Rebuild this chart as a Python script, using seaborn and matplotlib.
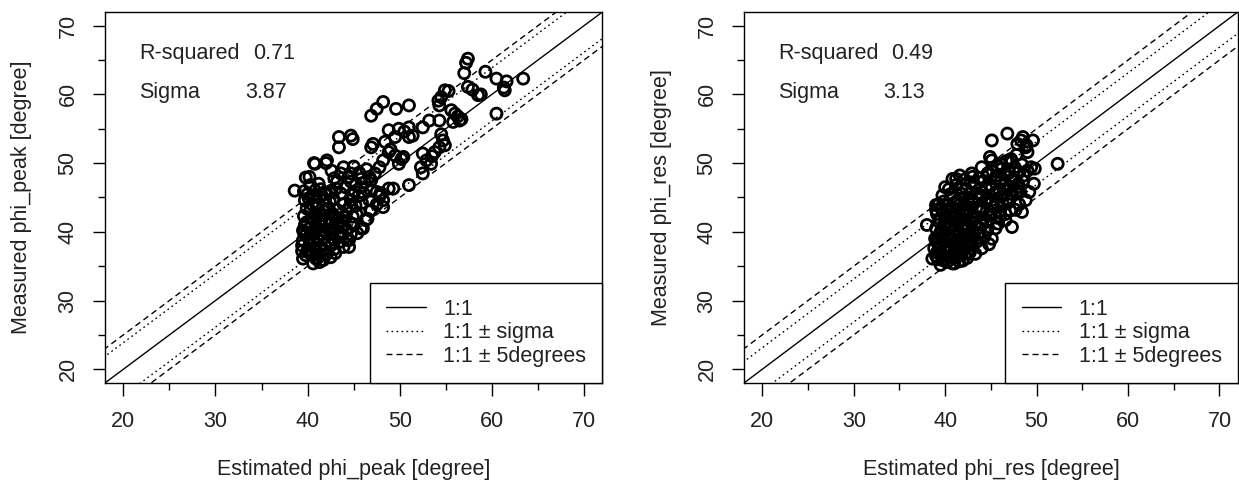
"""
plot.py
Measured vs estimated friction angle (peak and residual) with 1:1 reference lines.
"""

import matplotlib
matplotlib.use("Agg")
import matplotlib.pyplot as plt
import seaborn as sns
import numpy as np
import pandas as pd

# --- data ----------------------------------------------------------------
peak_est = [
    57.4, 57.2, 57.0, 59.3, 60.5, 61.6, 63.4, 57.4, 57.9, 58.5, 61.3, 61.4, 60.5, 58.8,
    54.9, 54.5, 54.2, 55.3, 54.3, 55.6, 56.0, 56.7, 55.8, 56.3, 56.5, 54.3, 53.2,
    52.5, 51.0, 49.9, 51.4, 51.0, 50.5,
    46.9, 47.5, 48.2, 49.6, 51.0,
    43.4, 43.4, 44.7, 44.9, 47.1, 46.9,
    48.4, 48.8, 49.5, 48.8, 49.5, 50.4, 49.9, 50.2, 49.0,
    52.5, 52.9, 53.4, 52.3, 52.5, 53.8, 54.3, 54.7, 54.9, 54.5, 53.5,
    51.0, 49.3,
    48.2, 47.8, 47.3, 46.7, 46.9, 45.8, 44.7, 44.7, 45.8, 46.9, 47.5, 46.2, 45.2,
    48.0, 48.2, 48.2, 46.7, 46.9, 46.5, 46.0, 47.5, 47.8,
    44.7, 44.3, 44.9, 44.7, 43.8, 44.7, 44.5, 44.5, 45.2, 45.5, 43.9,
    43.0, 43.4, 42.6, 42.8, 41.9, 42.1, 41.7, 40.6, 39.5, 43.9, 44.3,
    40.8, 42.1, 42.6, 43.6, 43.2, 40.7, 42.0, 39.8,
    38.6, 40.2, 40.8, 41.3, 39.7, 39.9, 40.8, 41.9, 42.6, 42.3, 41.3, 39.9, 39.5, 40.4,
    41.3, 39.5, 40.2, 41.3, 40.4, 41.3, 41.9, 42.6,
    45.8, 46.3, 46.8, 47.9, 48.8,
    40.0, 40.5, 41.0, 41.5, 40.2, 40.9, 41.6, 42.2, 42.9, 40.0, 40.7, 39.8, 41.1, 42.5,
    42.0, 41.2, 40.3, 42.8, 43.2, 43.6, 44.1, 42.9, 44.0, 43.5, 39.6, 40.5, 42.3, 41.8,
    40.9, 39.4, 43.0, 45.3, 44.8, 45.6, 46.4, 43.9, 45.0,
    39.6, 40.1, 40.6, 41.4, 41.9, 42.4, 40.3, 41.1, 41.8, 42.7, 39.7, 40.6, 41.5, 42.3,
    43.3, 39.6, 40.3, 41.1, 42.0, 42.9, 39.4, 40.1, 40.9, 41.8, 42.6, 43.4, 43.8, 41.3,
    39.8, 42.4, 43.1, 44.4, 45.1, 44.6, 45.9, 46.1, 43.7, 44.2, 45.0, 45.4,
]
peak_meas = [
    65.2, 64.6, 63.1, 63.3, 62.3, 61.9, 62.3, 61.1, 60.7, 59.9, 61.0, 60.6, 57.2, 60.0,
    60.6, 59.6, 59.1, 60.5, 58.4, 57.7, 57.2, 56.4, 56.0, 56.8, 56.2, 56.2, 56.2,
    55.2, 55.2, 55.0, 54.0, 53.8, 54.6,
    56.9, 57.9, 58.9, 57.9, 58.4,
    53.8, 52.3, 54.0, 53.5, 52.8, 52.3,
    53.1, 54.8, 53.8, 51.6, 51.1, 50.9, 49.9, 50.6, 52.0,
    51.4, 50.4, 49.9, 49.4, 48.5, 51.6, 52.3, 53.3, 52.6, 54.2, 51.0,
    46.8, 46.3,
    50.4, 49.4, 48.5, 48.0, 47.5, 47.7, 48.5, 47.3, 46.5, 46.0, 45.8, 47.2, 46.8,
    45.6, 44.6, 43.6, 44.6, 43.1, 41.9, 40.5, 44.0, 45.2,
    44.6, 43.1, 42.2, 41.2, 40.7, 39.7, 38.8, 37.8, 43.8, 45.2, 44.0,
    42.2, 41.2, 39.7, 39.0, 38.1, 36.8, 35.9, 35.4, 36.1, 37.8, 38.8,
    49.9, 50.4, 48.9, 48.5, 47.3, 50.0, 50.0, 47.9,
    46.0, 48.0, 46.0, 45.1, 44.6, 43.4, 42.7, 44.6, 46.0, 43.4, 41.7, 41.4, 40.2, 39.7,
    39.7, 38.8, 38.1, 37.8, 36.8, 36.8, 41.7, 41.2,
    40.5, 41.7, 43.1, 45.6, 46.3,
    45.5, 44.0, 43.5, 42.5, 40.5, 40.8, 40.2, 38.6, 37.5, 37.4, 38.6, 39.5, 36.2, 36.3,
    44.0, 47.0, 46.8, 44.8, 43.2, 45.6, 46.5, 47.8, 42.1, 39.5, 42.3, 41.9, 40.3, 39.2,
    37.4, 37.2, 36.9, 42.6, 45.5, 48.6, 49.1, 49.4, 49.5,
    45.9, 44.9, 45.3, 46.2, 45.5, 44.4, 43.1, 42.2, 43.0, 42.6, 41.0, 40.1, 41.0, 41.9,
    42.0, 39.9, 39.2, 38.9, 39.9, 40.3, 38.0, 37.0, 36.1, 37.3, 38.1, 38.5, 39.6, 35.6,
    36.6, 45.7, 46.3, 47.9, 45.9, 43.7, 44.2, 45.6, 41.6, 40.4, 41.1, 39.8,
]

res_est = [
    38.0, 39.0, 39.7, 40.8, 41.6, 42.9, 44.0, 45.1, 44.9, 45.1, 46.8, 46.0, 47.3,
    48.5, 49.6, 47.9, 49.0, 48.8, 49.8, 49.4, 49.7, 49.2, 48.8, 48.4, 47.3, 46.6,
    45.1, 44.0, 45.5, 38.6, 39.5, 41.0, 42.5, 42.9, 43.8, 52.3, 48.1, 47.9, 47.1,
    46.0, 48.6, 49.0,
    39.0, 39.3, 39.1, 39.4, 39.0, 39.3, 39.1, 39.6, 39.8, 40.0, 40.3, 40.1, 40.4, 40.0,
    40.5, 40.2, 40.6, 40.3, 40.7, 40.4, 41.0, 41.3, 41.1, 41.4, 41.0, 41.5, 41.2, 41.6,
    41.3, 41.7, 41.2, 41.9, 42.0, 42.3, 42.1, 42.4, 42.0, 42.5, 42.2, 42.6, 42.3, 42.8,
    43.0, 43.3, 43.1, 43.4, 43.0, 43.5, 43.2, 43.7, 44.0, 44.3, 44.1, 44.4, 44.0, 44.5,
    44.2, 44.6, 45.0, 45.3, 45.1, 45.4, 45.0, 45.5, 45.2, 45.7, 46.0, 46.3, 46.1, 46.4,
    46.0, 46.5, 46.2, 46.7, 47.0, 47.3, 47.1, 47.4, 47.0, 47.6, 47.2, 47.8, 48.2, 48.0,
    48.4, 48.1, 44.6, 45.8, 43.5, 42.7, 40.8, 39.7, 38.9, 38.8, 39.9, 40.6, 41.8, 42.9,
    44.8, 48.9, 48.3,
    39.2, 39.6, 39.4, 39.8, 39.5, 39.9, 39.4, 39.8, 39.3, 40.2, 40.6, 40.3, 40.8, 40.5,
    40.9, 40.4, 40.8, 40.5, 41.0, 40.6, 41.5, 41.8, 41.5, 41.9, 41.6, 41.9, 41.6, 41.9,
    41.6, 42.0, 41.8, 42.4, 42.6, 42.4, 42.8, 42.6, 42.9, 42.7, 43.3, 43.6, 43.4, 43.8,
    43.6, 43.9, 44.3, 44.5, 44.8, 44.7, 44.9, 45.6, 45.7, 45.9, 45.6, 46.6, 46.8, 46.6,
    46.9, 47.7, 47.8, 48.5, 39.1, 39.2, 39.0, 40.0, 41.2, 42.1, 43.0,
]
res_meas = [
    41.0, 43.9, 45.3, 47.7, 48.2, 48.5, 49.4, 50.4, 50.9, 53.3, 54.3, 49.9, 50.2,
    53.8, 53.3, 52.8, 51.6, 52.3, 49.2, 49.4, 47.0, 45.8, 44.6, 42.9, 40.7, 41.7,
    39.0, 37.6, 40.5, 36.1, 35.2, 35.4, 36.8, 38.8, 39.7, 49.9, 48.7, 46.5, 43.1,
    42.2, 48.2, 48.9,
    36.5, 37.5, 38.5, 39.6, 40.5, 41.5, 42.6, 43.4, 44.4, 36.0, 37.0, 38.0, 39.0, 40.0,
    41.0, 42.0, 43.0, 44.0, 45.0, 46.2, 36.3, 37.3, 38.4, 39.4, 40.4, 41.4, 42.4, 43.4,
    44.5, 45.6, 46.8, 35.8, 37.8, 38.0, 39.6, 40.8, 41.8, 42.8, 43.9, 45.0, 46.2, 47.2,
    40.2, 41.3, 42.4, 43.5, 44.6, 45.6, 46.8, 47.8, 41.0, 42.0, 43.2, 44.3, 45.3, 46.3,
    47.4, 48.4, 42.5, 43.6, 44.6, 45.6, 46.7, 47.7, 48.8, 49.6, 43.0, 44.1, 45.1, 46.2,
    47.2, 48.3, 49.2, 50.3, 44.4, 45.5, 46.6, 47.6, 48.6, 49.4, 50.6, 51.2, 45.8, 47.0,
    49.8, 44.0, 40.2, 41.2, 38.6, 37.0, 35.4, 35.9, 39.0, 37.6, 41.1, 37.8, 40.6, 39.3,
    38.2, 52.6, 53.3,
    36.0, 36.8, 38.0, 38.9, 40.0, 40.8, 41.9, 42.8, 44.0, 35.6, 36.4, 37.5, 38.3, 39.5,
    40.2, 41.4, 42.2, 43.4, 44.2, 45.5, 35.7, 36.8, 37.9, 38.8, 39.9, 40.9, 42.0, 42.9,
    44.0, 45.0, 46.3, 36.2, 38.6, 39.5, 41.4, 43.3, 44.4, 45.6, 36.8, 39.8, 42.0, 43.0,
    44.9, 46.3, 39.3, 41.5, 42.6, 44.9, 46.8, 42.1, 44.1, 46.1, 48.2, 42.6, 44.8, 47.0,
    49.0, 43.2, 45.9, 47.4, 37.0, 39.1, 43.2, 46.5, 47.7, 47.6, 48.0,
]

panels = [
    {"est": peak_est, "meas": peak_meas, "name": "phi_peak", "r2": "0.71", "sigma": 3.87},
    {"est": res_est, "meas": res_meas, "name": "phi_res", "r2": "0.49", "sigma": 3.13},
]

ref_x = [10, 80]
FS = 15.5

sns.set_theme(style="white")
plt.rcParams["font.family"] = ["Liberation Sans", "DejaVu Sans"]
plt.rcParams["axes.edgecolor"] = "black"
plt.rcParams["axes.linewidth"] = 1.0

fig = plt.figure(figsize=(12.39, 4.87), dpi=100)
positions = [[0.0847, 0.2136, 0.4015, 0.7618], [0.6005, 0.2136, 0.3985, 0.7618]]

for pos, p in zip(positions, panels):
    ax = fig.add_axes(pos)
    df = pd.DataFrame({"est": p["est"], "meas": p["meas"]})
    sns.scatterplot(data=df, x="est", y="meas", ax=ax, marker="o", s=64,
                    facecolor="none", edgecolor="black", linewidth=2.0, zorder=3)

    rx = np.array(ref_x, dtype=float)
    sig = p["sigma"]
    ax.plot(rx, rx, color="black", lw=1.0, label="1:1")
    ax.plot(rx, rx + sig, color="black", lw=1.0, dashes=(1.2, 2.4), label="1:1 \u00b1 sigma")
    ax.plot(rx, rx - sig, color="black", lw=1.0, dashes=(1.2, 2.4))
    ax.plot(rx, rx + 5, color="black", lw=1.0, dashes=(4.3, 2.9), label="1:1 \u00b1 5degrees")
    ax.plot(rx, rx - 5, color="black", lw=1.0, dashes=(4.3, 2.9))

    ax.set_xlim(18, 72)
    ax.set_ylim(18, 72)
    ax.set_xticks(range(20, 71, 10))
    ax.set_yticks(range(20, 71, 10))
    ax.set_xticks(range(25, 70, 10), minor=True)
    ax.set_yticks(range(25, 70, 10), minor=True)
    ax.tick_params(which="major", length=9, width=1.0, color="black", direction="out",
                   labelsize=FS, labelcolor="#222222", bottom=True, left=True)
    ax.tick_params(which="minor", length=5, width=1.0, color="black", direction="out",
                   bottom=True, left=True)
    ax.tick_params(axis="x", which="major", pad=11)
    ax.tick_params(axis="y", which="major", pad=10)
    for lab in ax.get_yticklabels():
        lab.set_rotation(90)
        lab.set_va("center")

    ax.set_xlabel(f"Estimated {p['name']} [degree]", fontsize=FS, color="#222222")
    ax.set_ylabel(f"Measured {p['name']} [degree]", fontsize=FS, color="#222222")
    ax.xaxis.set_label_coords(0.5, -0.205)
    ax.yaxis.set_label_coords(-0.146, 0.5)

    for sp in ax.spines.values():
        sp.set_visible(True)
        sp.set_color("black")

    ax.text(21.7, 65.9, "R-squared", fontsize=FS, va="center", ha="left", color="#222222")
    ax.text(34.1, 65.9, p["r2"], fontsize=FS, va="center", ha="left", color="#222222")
    ax.text(21.7, 60.3, "Sigma", fontsize=FS, va="center", ha="left", color="#222222")
    ax.text(33.2, 60.3, f"{sig:.2f}", fontsize=FS, va="center", ha="left", color="#222222")

    leg = ax.legend(loc="lower right", fontsize=FS, frameon=True, fancybox=False,
                    edgecolor="black", framealpha=1, borderaxespad=0, borderpad=0.75,
                    handlelength=1.85, handletextpad=0.8, labelspacing=0.12)
    leg.get_frame().set_linewidth(1.0)
    for t in leg.get_texts():
        t.set_color("#222222")

fig.savefig("out.png", dpi=100)
